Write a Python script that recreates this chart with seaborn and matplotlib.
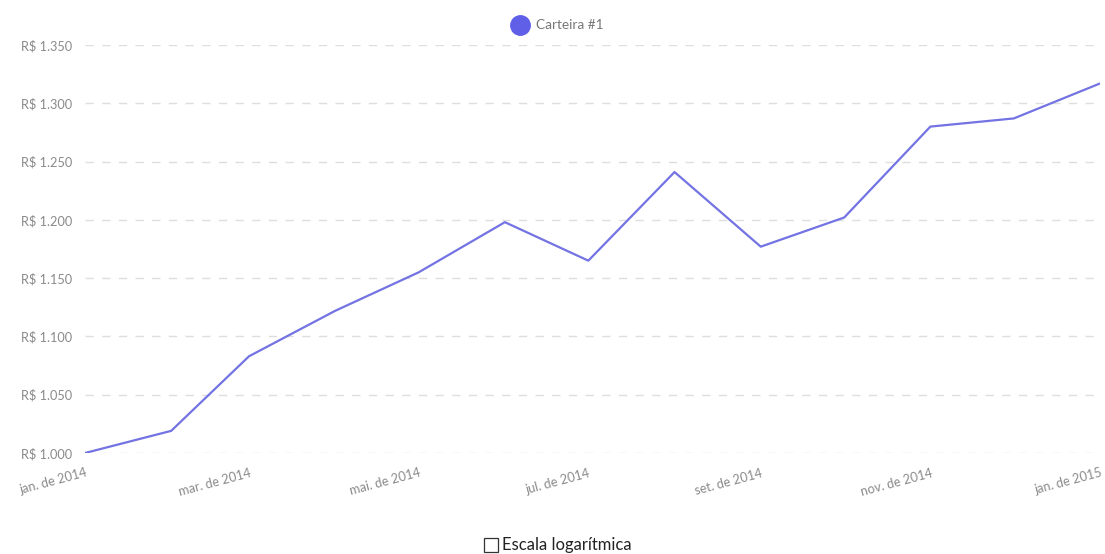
import pandas as pd
import numpy as np
import matplotlib.pyplot as plt
import matplotlib.patches as mpatches
import seaborn as sns

# Monthly values of the portfolio
months = pd.date_range('2014-01-01', '2015-01-01', freq='MS')
values = [1000, 1019, 1083, 1122, 1155, 1198, 1165, 1241, 1177, 1202, 1280, 1287, 1317]
series_name = 'Carteira #1'

y_ticks = [1000, 1050, 1100, 1150, 1200, 1250, 1300, 1350]
y_labels = ['R$ 1.000', 'R$ 1.050', 'R$ 1.100', 'R$ 1.150',
            'R$ 1.200', 'R$ 1.250', 'R$ 1.300', 'R$ 1.350']
x_ticks = pd.to_datetime(['2014-01-01', '2014-03-01', '2014-05-01', '2014-07-01',
                          '2014-09-01', '2014-11-01', '2015-01-01'])
x_labels = ['jan. de 2014', 'mar. de 2014', 'mai. de 2014', 'jul. de 2014',
            'set. de 2014', 'nov. de 2014', 'jan. de 2015']

df = pd.DataFrame({'data': months, 'valor': values})

sns.set_theme(style='white')
plt.rcParams['font.family'] = ['Lato', 'DejaVu Sans']

line_color = '#7373e3'
text_color = '#8a8a8a'

fig = plt.figure(figsize=(11.05, 5.54), dpi=100)
ax = fig.add_axes([0.0769, 0.1823, 0.9186, 0.7365])

sns.lineplot(data=df, x='data', y='valor', color=line_color, linewidth=1.6, ax=ax)

ax.set_xlim(months[0], months[-1])
ax.set_ylim(1000, 1350)
ax.set_yticks(y_ticks)
ax.set_yticklabels(y_labels)
ax.set_xticks(x_ticks)
ax.set_xticklabels(x_labels, rotation=15, ha='right', rotation_mode='anchor')

ax.tick_params(axis='y', length=7, width=0.8, color='#dddddd', labelsize=9.2,
               labelcolor=text_color, pad=2)
ax.tick_params(axis='x', length=0, labelsize=9.2, labelcolor=text_color, pad=10)
ax.grid(axis='y', color='#dedede', linestyle=(0, (6, 6)), linewidth=1)
ax.set_axisbelow(True)
for s in ax.spines.values():
    s.set_visible(False)
ax.set_xlabel('')
ax.set_ylabel('')

# legend at the top
fig.text(536 / 1105, 1 - 25 / 554, series_name, fontsize=9.8, color='#777777',
         va='center', ha='left')
fig.add_artist(plt.Line2D([520 / 1105], [1 - 25 / 554], marker='o', markersize=14,
                          color='#5f5fe8', transform=fig.transFigure))

# checkbox for log scale
fig.patches.append(mpatches.Rectangle((484 / 1105, 1 - 552 / 554), 14 / 1105, 14 / 554,
                                      transform=fig.transFigure, fill=False,
                                      edgecolor='#333333', linewidth=0.9))
fig.text(502 / 1105, 1 - 545 / 554, 'Escala logarítmica', fontsize=12,
         color='#222222', va='center', ha='left')

plt.savefig('out.png', dpi=100)
